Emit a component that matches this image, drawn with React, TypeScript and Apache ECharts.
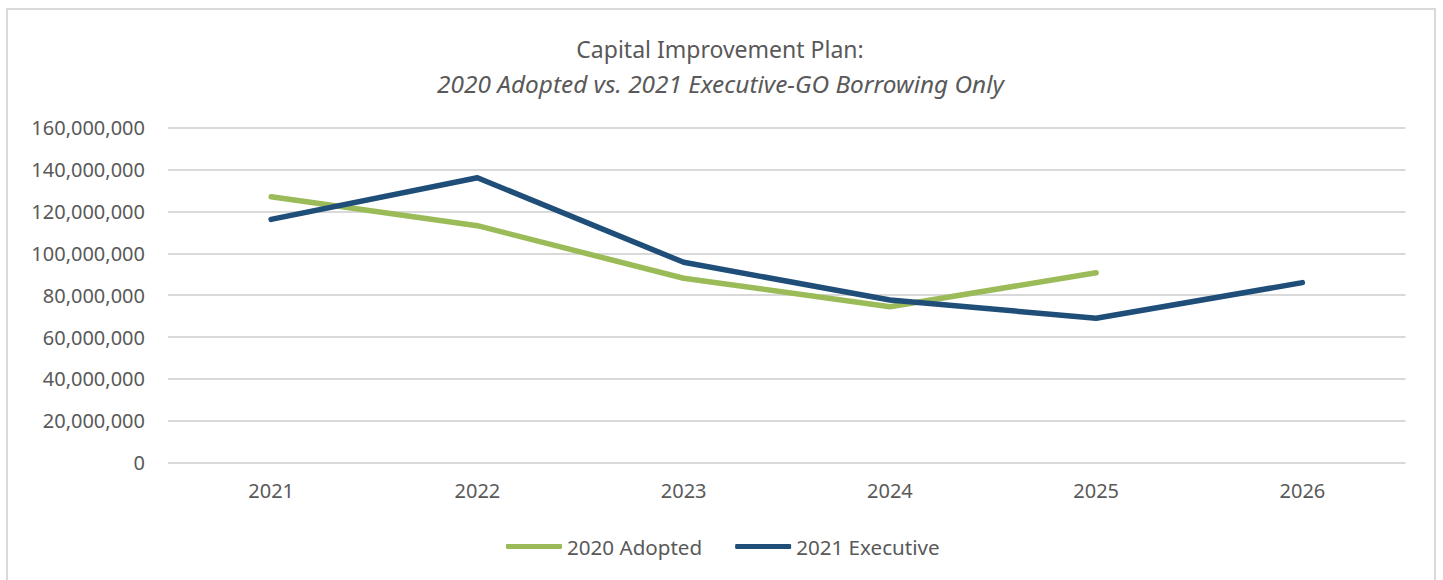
import React, { useEffect, useRef } from "react";
import * as echarts from "echarts";

const categories = ["2021", "2022", "2023", "2024", "2025", "2026"];
const adopted2020 = [127000000, 113200000, 88100000, 74500000, 90700000, null];
const executive2021 = [116200000, 136100000, 95700000, 77700000, 69000000, 86000000];
const seriesNames = ["2020 Adopted", "2021 Executive"];
const titleText = "Capital Improvement Plan:";
const subtitleText = "2020 Adopted vs. 2021 Executive-GO Borrowing Only";

const FONT = "'Noto Sans', 'Open Sans', sans-serif";
const TEXT = "#595959";

export default function App() {
  const ref = useRef<HTMLDivElement>(null);
  useEffect(() => {
    if (!ref.current) return;
    const chart = echarts.init(ref.current, null, { renderer: "svg" });
    chart.setOption({
      animation: false,
      backgroundColor: "#ffffff",
      textStyle: { fontFamily: FONT, color: TEXT },
      graphic: [
        {
          type: "rect",
          shape: { x: 7, y: 9, width: 1428, height: 620 },
          style: { fill: "none", stroke: "#d9d9d9", lineWidth: 2 },
          silent: true,
        },
        {
          type: "text",
          x: 720,
          y: 49,
          style: {
            text: titleText,
            fontFamily: FONT,
            fontSize: 23,
            fill: TEXT,
            align: "center",
            verticalAlign: "middle",
          },
          silent: true,
        },
        {
          type: "text",
          x: 720.5,
          y: 83,
          style: {
            text: subtitleText,
            fontFamily: FONT,
            fontSize: 24.4,
            fontStyle: "italic",
            fill: TEXT,
            align: "center",
            verticalAlign: "middle",
          },
          silent: true,
        },
      ],
      legend: {
        left: 501,
        top: 531,
        icon: "roundRect",
        itemWidth: 56,
        itemHeight: 5,
        itemGap: 33,
        textStyle: { fontFamily: FONT, fontSize: 20.6, color: TEXT },
        data: seriesNames,
      },
      grid: { left: 168, right: 37.5, top: 127.7, bottom: 117.3, containLabel: false },
      xAxis: {
        type: "category",
        data: categories,
        boundaryGap: true,
        axisLine: { show: false },
        axisTick: { show: false },
        axisLabel: { fontFamily: FONT, fontSize: 20, color: TEXT, margin: 18 },
      },
      yAxis: {
        type: "value",
        min: 0,
        max: 160000000,
        interval: 20000000,
        axisLine: { show: false },
        axisTick: { show: false },
        splitLine: { lineStyle: { color: "#d9d9d9", width: 2 } },
        axisLabel: {
          fontFamily: FONT,
          fontSize: 20,
          color: TEXT,
          margin: 23,
          formatter: (v: number) => v.toLocaleString("en-US"),
        },
      },
      series: [
        {
          name: seriesNames[0],
          type: "line",
          data: adopted2020,
          symbol: "none",
          color: "#9bbb59",
          lineStyle: { width: 5.5, color: "#9bbb59", cap: "round", join: "round" },
        },
        {
          name: seriesNames[1],
          type: "line",
          data: executive2021,
          symbol: "none",
          color: "#1f4e79",
          lineStyle: { width: 5.5, color: "#1f4e79", cap: "round", join: "round" },
        },
      ],
    });
    return () => chart.dispose();
  }, []);
  return (
    <div
      ref={ref}
      style={{ position: "fixed", left: 0, top: 0, width: 1443, height: 580 }}
    />
  );
}
